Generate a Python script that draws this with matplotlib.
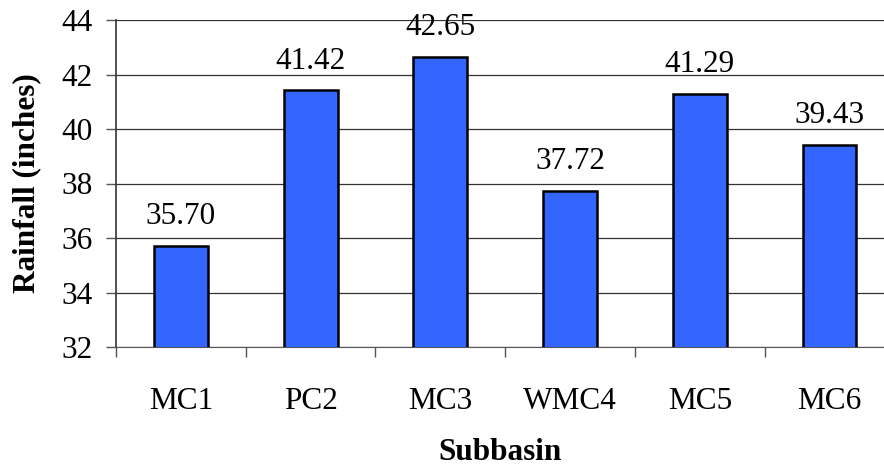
import matplotlib
matplotlib.use("Agg")
import matplotlib.pyplot as plt
from matplotlib.ticker import FixedLocator
import numpy as np

categories = ["MC1", "PC2", "MC3", "WMC4", "MC5", "MC6"]
values = [35.70, 41.42, 42.65, 37.72, 41.29, 39.43]
yticks = [32, 34, 36, 38, 40, 42, 44]

plt.rcParams['font.family'] = ['Liberation Serif', 'DejaVu Serif']
fig = plt.figure(figsize=(8.84, 4.70), dpi=100)
ax = fig.add_axes([116/884, 123/470, 768/884, 327/470])

FS = 22.5
x = np.arange(len(categories))
ax.bar(x, values, width=0.415, bottom=0, color="#3366FF", edgecolor="black", linewidth=1.8, zorder=3)
for xi, v in zip(x, values):
    ax.text(xi, v + 0.8, f"{v:.2f}", ha="center", va="baseline", fontsize=FS, zorder=4)

ax.set_ylim(32, 44)
ax.set_xlim(-0.5, 5.42)
ax.set_yticks(yticks)
ax.set_yticklabels([str(t) for t in yticks], fontsize=FS)
ax.yaxis.grid(True, color="#333333", linewidth=0.9, zorder=0)
ax.set_xticks(x)
ax.set_xticklabels(categories, fontsize=FS)
ax.tick_params(axis="x", which="major", length=0, pad=29)
ax.xaxis.set_minor_locator(FixedLocator(np.arange(-0.5, 6, 1.0)))
ax.tick_params(axis="x", which="minor", length=7, width=1, color="#555555", direction="out")
ax.tick_params(axis="y", length=7, width=1, color="#555555", pad=10, direction="out")

for s in ["top", "right"]:
    ax.spines[s].set_visible(False)
ax.spines["left"].set_color("#333333")
ax.spines["bottom"].set_color("#555555")
ax.spines["left"].set_linewidth(1.2)

ax.set_ylabel("Rainfall (inches)", fontsize=FS, fontweight="bold", labelpad=14)
ax.set_xlabel("Subbasin", fontsize=FS, fontweight="bold", labelpad=16)

fig.savefig("out.png", dpi=100)
